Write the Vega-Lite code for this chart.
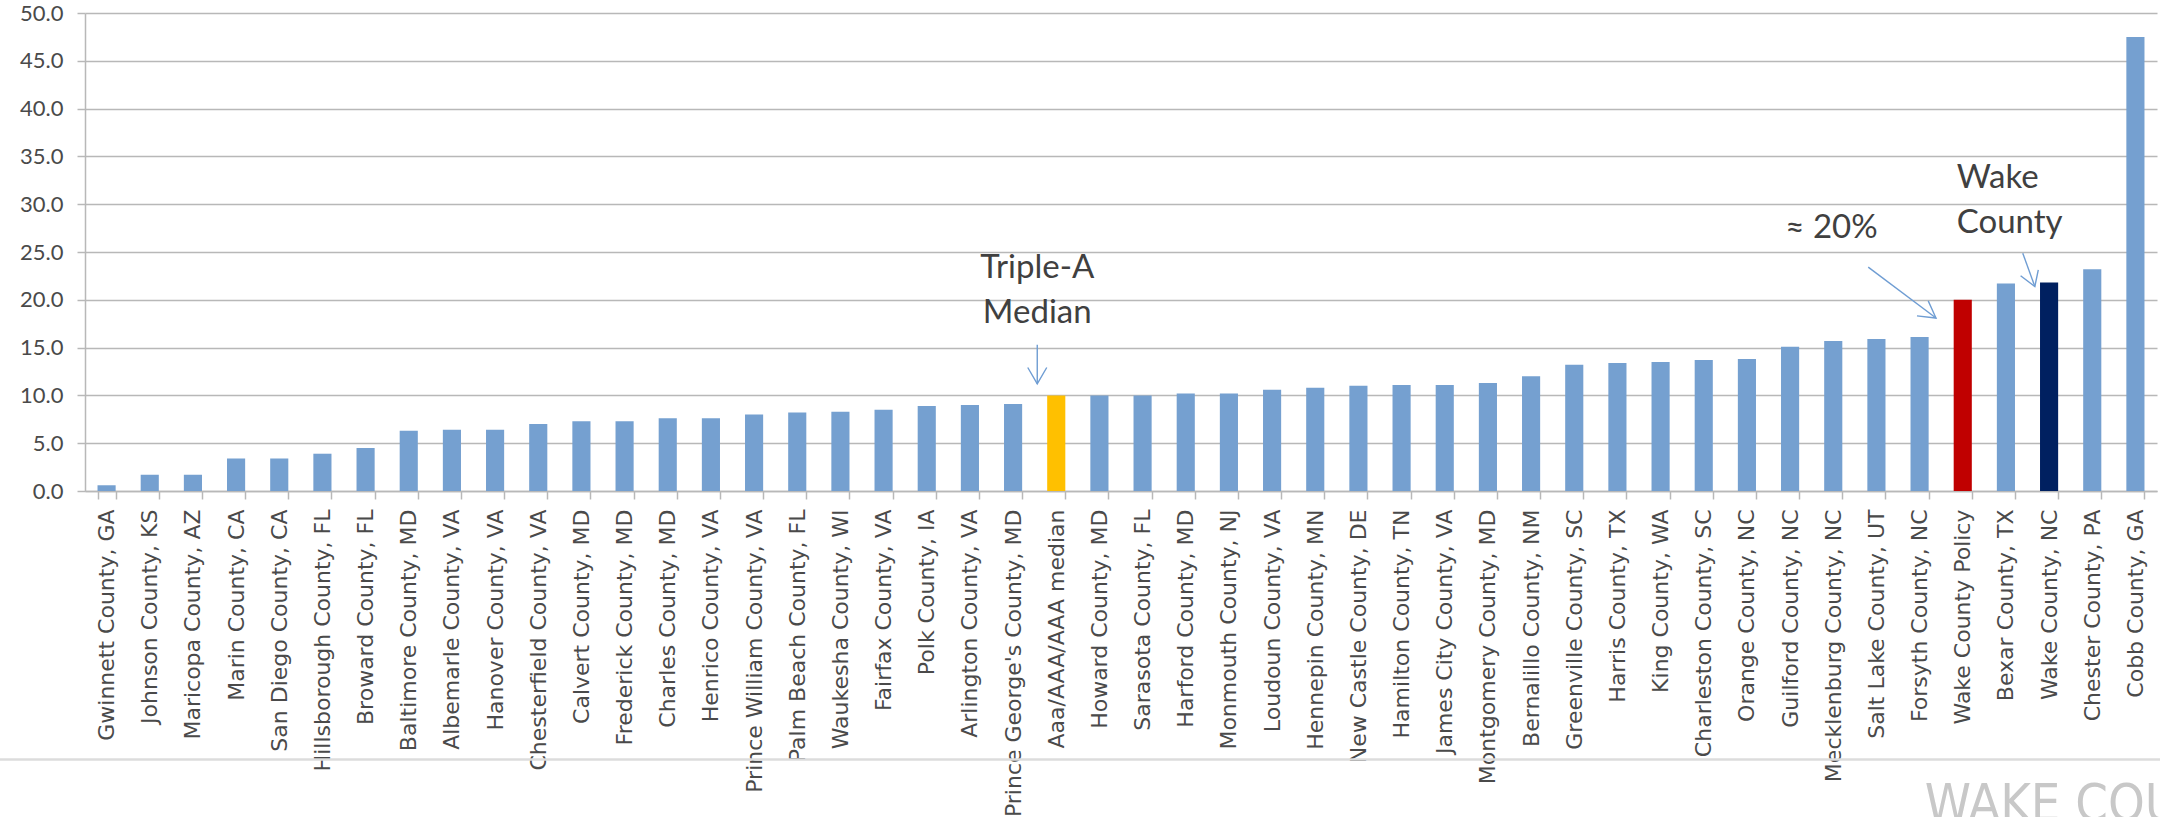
{
  "$schema": "https://vega.github.io/schema/vega-lite/v6.json",
  "autosize": {"type": "none"},
  "width": 2072,
  "height": 478,
  "padding": {"left": 85, "top": 13, "right": 3, "bottom": 326},
  "background": "white",
  "config": {"view": {"stroke": null}},
  "datasets": {
    "counties": [
      {"county": "Gwinnett County, GA", "value": 0.6, "kind": "county"},
      {"county": "Johnson County, KS", "value": 1.7, "kind": "county"},
      {"county": "Maricopa County, AZ", "value": 1.7, "kind": "county"},
      {"county": "Marin County, CA", "value": 3.4, "kind": "county"},
      {"county": "San Diego County, CA", "value": 3.4, "kind": "county"},
      {"county": "Hillsborough County, FL", "value": 3.9, "kind": "county"},
      {"county": "Broward County, FL", "value": 4.5, "kind": "county"},
      {"county": "Baltimore County, MD", "value": 6.3, "kind": "county"},
      {"county": "Albemarle County, VA", "value": 6.4, "kind": "county"},
      {"county": "Hanover County, VA", "value": 6.4, "kind": "county"},
      {"county": "Chesterfield County, VA", "value": 7.0, "kind": "county"},
      {"county": "Calvert County, MD", "value": 7.3, "kind": "county"},
      {"county": "Frederick County, MD", "value": 7.3, "kind": "county"},
      {"county": "Charles County, MD", "value": 7.6, "kind": "county"},
      {"county": "Henrico County, VA", "value": 7.6, "kind": "county"},
      {"county": "Prince William County, VA", "value": 8.0, "kind": "county"},
      {"county": "Palm Beach County, FL", "value": 8.2, "kind": "county"},
      {"county": "Waukesha County, WI", "value": 8.3, "kind": "county"},
      {"county": "Fairfax County, VA", "value": 8.5, "kind": "county"},
      {"county": "Polk County, IA", "value": 8.9, "kind": "county"},
      {"county": "Arlington County, VA", "value": 9.0, "kind": "county"},
      {"county": "Prince George's County, MD", "value": 9.1, "kind": "county"},
      {"county": "Aaa/AAA/AAA median", "value": 10.0, "kind": "median"},
      {"county": "Howard County, MD", "value": 10.0, "kind": "county"},
      {"county": "Sarasota County, FL", "value": 10.0, "kind": "county"},
      {"county": "Harford County, MD", "value": 10.2, "kind": "county"},
      {"county": "Monmouth County, NJ", "value": 10.2, "kind": "county"},
      {"county": "Loudoun County, VA", "value": 10.6, "kind": "county"},
      {"county": "Hennepin County, MN", "value": 10.8, "kind": "county"},
      {"county": "New Castle County, DE", "value": 11.0, "kind": "county"},
      {"county": "Hamilton County, TN", "value": 11.1, "kind": "county"},
      {"county": "James City County, VA", "value": 11.1, "kind": "county"},
      {"county": "Montgomery County, MD", "value": 11.3, "kind": "county"},
      {"county": "Bernalillo County, NM", "value": 12.0, "kind": "county"},
      {"county": "Greenville County, SC", "value": 13.2, "kind": "county"},
      {"county": "Harris County, TX", "value": 13.4, "kind": "county"},
      {"county": "King County, WA", "value": 13.5, "kind": "county"},
      {"county": "Charleston County, SC", "value": 13.7, "kind": "county"},
      {"county": "Orange County, NC", "value": 13.8, "kind": "county"},
      {"county": "Guilford County, NC", "value": 15.1, "kind": "county"},
      {"county": "Mecklenburg County, NC", "value": 15.7, "kind": "county"},
      {"county": "Salt Lake County, UT", "value": 15.9, "kind": "county"},
      {"county": "Forsyth County, NC", "value": 16.1, "kind": "county"},
      {"county": "Wake County Policy", "value": 20.0, "kind": "policy"},
      {"county": "Bexar County, TX", "value": 21.7, "kind": "county"},
      {"county": "Wake County, NC", "value": 21.8, "kind": "wake"},
      {"county": "Chester County, PA", "value": 23.2, "kind": "county"},
      {"county": "Cobb County, GA", "value": 47.5, "kind": "county"}
    ],
    "notesCentered": [
      {"text": "Triple-A", "x": 22.06, "y": 22.27},
      {"text": "Median", "x": 22.06, "y": 17.56},
      {"text": "≈ 20%", "x": 40.46, "y": 26.45}
    ],
    "notesLeft": [
      {"text": "Wake", "x": 43.36, "y": 31.67},
      {"text": "County", "x": 43.36, "y": 26.97}
    ],
    "arrows": [
      {"path": "median-shaft", "seq": 0, "x": 22.06, "y": 15.29},
      {"path": "median-shaft", "seq": 1, "x": 22.06, "y": 11.2},
      {"path": "median-head", "seq": 0, "x": 21.84, "y": 12.92},
      {"path": "median-head", "seq": 1, "x": 22.06, "y": 11.2},
      {"path": "median-head", "seq": 2, "x": 22.28, "y": 12.92},
      {"path": "policy-shaft", "seq": 0, "x": 41.31, "y": 23.42},
      {"path": "policy-shaft", "seq": 1, "x": 42.88, "y": 18.09},
      {"path": "policy-head", "seq": 0, "x": 42.7, "y": 19.89},
      {"path": "policy-head", "seq": 1, "x": 42.88, "y": 18.09},
      {"path": "policy-head", "seq": 2, "x": 42.44, "y": 18.32},
      {"path": "wake-shaft", "seq": 0, "x": 44.89, "y": 24.88},
      {"path": "wake-shaft", "seq": 1, "x": 45.17, "y": 21.39},
      {"path": "wake-head", "seq": 0, "x": 44.84, "y": 22.51},
      {"path": "wake-head", "seq": 1, "x": 45.17, "y": 21.39},
      {"path": "wake-head", "seq": 2, "x": 45.25, "y": 23.13}
    ],
    "footer": [
      {"x": -1.97, "x2": 48.07, "y": -28.09}
    ],
    "brand": [
      {"text": "WAKE COUNTY", "x": 42.62, "y": -34.49}
    ]
  },
  "layer": [
    {
      "data": {"name": "footer"},
      "mark": {"type": "rule", "color": "#dcdcdc", "strokeWidth": 2.5},
      "encoding": {
        "x": {"field": "x", "type": "quantitative", "scale": {"domain": [0, 48], "nice": false, "zero": false}, "axis": null},
        "x2": {"field": "x2"},
        "y": {"field": "y", "type": "quantitative", "scale": {"domain": [0, 50], "nice": false}}
      }
    },
    {
      "data": {"name": "counties"},
      "mark": {"type": "bar"},
      "encoding": {
        "x": {
          "field": "county",
          "type": "nominal",
          "sort": null,
          "scale": {"paddingInner": 0.58, "paddingOuter": 0.29},
          "axis": {
            "title": null,
            "labelAngle": 270,
            "labelAlign": "right",
            "labelBaseline": "middle",
            "labelFont": "DejaVu Sans",
            "labelFontSize": 22,
            "labelColor": "#4a4a4a",
            "labelLimit": 500,
            "labelOverlap": false,
            "labelPadding": 10,
            "tickBand": "extent",
            "tickSize": 8,
            "tickColor": "#b8b8b8",
            "tickWidth": 1.5,
            "domainColor": "#b8b8b8",
            "domainWidth": 1.5,
            "grid": false
          }
        },
        "y": {
          "field": "value",
          "type": "quantitative",
          "scale": {"domain": [0, 50], "nice": false},
          "axis": {
            "title": null,
            "values": [0, 5, 10, 15, 20, 25, 30, 35, 40, 45, 50],
            "format": ".1f",
            "labelFont": "Lato",
            "labelFontSize": 22,
            "labelColor": "#4a4a4a",
            "labelPadding": 14,
            "tickSize": 8,
            "tickColor": "#b8b8b8",
            "tickWidth": 1.5,
            "domainColor": "#b8b8b8",
            "domainWidth": 1.5,
            "grid": true,
            "gridColor": "#b8b8b8",
            "gridWidth": 1.5
          }
        },
        "color": {
          "field": "kind",
          "type": "nominal",
          "scale": {
            "domain": ["county", "median", "policy", "wake"],
            "range": ["#75A0D0", "#FFC000", "#C00000", "#002060"]
          },
          "legend": null
        }
      }
    },
    {
      "data": {"name": "arrows"},
      "mark": {"type": "line", "color": "#6F9DD3", "strokeWidth": 1.4},
      "encoding": {
        "x": {"field": "x", "type": "quantitative", "scale": {"domain": [0, 48], "nice": false, "zero": false}, "axis": null},
        "y": {"field": "y", "type": "quantitative"},
        "detail": {"field": "path"},
        "order": {"field": "seq"}
      }
    },
    {
      "data": {"name": "notesCentered"},
      "mark": {"type": "text", "font": "Lato", "fontSize": 33, "color": "#404040", "align": "center", "baseline": "alphabetic"},
      "encoding": {
        "x": {"field": "x", "type": "quantitative", "scale": {"domain": [0, 48], "nice": false, "zero": false}, "axis": null},
        "y": {"field": "y", "type": "quantitative"},
        "text": {"field": "text"}
      }
    },
    {
      "data": {"name": "notesLeft"},
      "mark": {"type": "text", "font": "Lato", "fontSize": 33, "color": "#404040", "align": "left", "baseline": "alphabetic"},
      "encoding": {
        "x": {"field": "x", "type": "quantitative", "scale": {"domain": [0, 48], "nice": false, "zero": false}, "axis": null},
        "y": {"field": "y", "type": "quantitative"},
        "text": {"field": "text"}
      }
    },
    {
      "data": {"name": "brand"},
      "mark": {"type": "text", "font": "DejaVu Sans Condensed, Liberation Sans Narrow, Liberation Sans, sans-serif", "fontSize": 52, "fontWeight": 300, "color": "#c8c8c8", "align": "left", "baseline": "alphabetic"},
      "encoding": {
        "x": {"field": "x", "type": "quantitative", "scale": {"domain": [0, 48], "nice": false, "zero": false}, "axis": null},
        "y": {"field": "y", "type": "quantitative"},
        "text": {"field": "text"}
      }
    }
  ],
  "resolve": {"scale": {"x": "independent"}, "axis": {"x": "independent"}}
}
